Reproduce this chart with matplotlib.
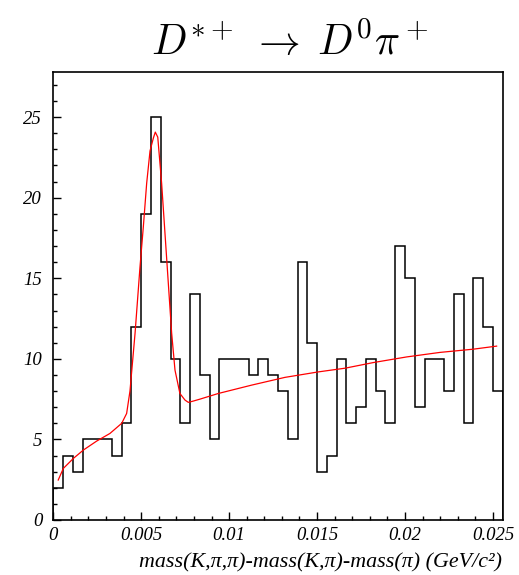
import numpy as np
import matplotlib
matplotlib.use("Agg")
import matplotlib.pyplot as plt
from matplotlib.ticker import MultipleLocator

plt.rcParams['mathtext.fontset'] = 'cm'

# histogram: 46 bins of width 0.025/45 starting at 0
bin_width = 0.025 / 45
counts = [2, 4, 3, 5, 5, 5, 4, 6, 12, 19,
          25, 16, 10, 6, 14, 9, 5, 10, 10, 10,
          9, 10, 9, 8, 5, 16, 11, 3, 4, 10,
          6, 7, 10, 8, 6, 17, 15, 7, 10, 10,
          8, 14, 6, 15, 12, 8]
edges = np.arange(len(counts) + 1) * bin_width

# fit curve
fit_x = [0.00028, 0.00057, 0.00114, 0.00171, 0.00247, 0.00322, 0.00389, 0.00417,
         0.00436, 0.00465, 0.00493, 0.00512, 0.00531, 0.00550, 0.00569, 0.00580,
         0.00594, 0.00616, 0.00635, 0.00654, 0.00673, 0.00692, 0.00720, 0.00749,
         0.00768, 0.00796, 0.00834, 0.00938, 0.01128, 0.01317, 0.01507, 0.01659,
         0.01820, 0.02010, 0.02199, 0.02388, 0.02521]
fit_y = [2.48, 3.2, 3.82, 4.34, 4.9, 5.37, 6.0, 6.61,
         8.0, 11.6, 15.7, 18.2, 20.9, 22.9, 23.7, 24.07,
         23.76, 20.9, 17.8, 14.7, 11.6, 9.3, 7.85, 7.44,
         7.30, 7.38, 7.50, 7.85, 8.37, 8.85, 9.19, 9.42,
         9.77, 10.12, 10.4, 10.6, 10.79]

fig = plt.figure(figsize=(5.19, 5.75), dpi=100)
ax = fig.add_axes([53.3 / 519, 1 - 520 / 575, 449.4 / 519, 448 / 575])

ax.stairs(counts, edges, color='black', linewidth=1.1)
ax.plot(fit_x, fit_y, color='red', linewidth=0.9)

ax.set_xlim(edges[0], edges[-1])
ax.set_ylim(0, 27.8)

ax.xaxis.set_major_locator(MultipleLocator(0.005))
ax.xaxis.set_minor_locator(MultipleLocator(0.001))
ax.yaxis.set_major_locator(MultipleLocator(5))
ax.yaxis.set_minor_locator(MultipleLocator(1))
ax.tick_params(which='both', direction='in', top=False, right=False, width=1.0)
ax.tick_params(which='major', length=6)
ax.tick_params(which='minor', length=3)
ax.tick_params(axis='y', pad=8)
ax.tick_params(axis='x', pad=5)
for sp in ax.spines.values():
    sp.set_linewidth(1.2)

xticks = [0, 0.005, 0.01, 0.015, 0.02, 0.025]
ax.set_xticks(xticks)
ax.set_xticklabels(['0', '0.005', '0.01', '0.015', '0.02', '0.025'])
for lab in ax.get_xticklabels() + ax.get_yticklabels():
    lab.set_fontfamily('Liberation Serif')
    lab.set_fontstyle('italic')
    lab.set_fontsize(13.5)

fig.text(502 / 519, 1 - 563 / 575, 'mass(K,\u03c0,\u03c0)-mass(K,\u03c0)-mass(\u03c0) (GeV/c\u00b2)',
         ha='right', va='center', fontsize=15.8, family='Liberation Serif', style='italic')

fig.text(290 / 519, 1 - 55 / 575, r'$D^{*+}\;\rightarrow\;D^0\pi^+$', ha='center',
         va='baseline', fontsize=30)

fig.savefig('out.png', dpi=100)
